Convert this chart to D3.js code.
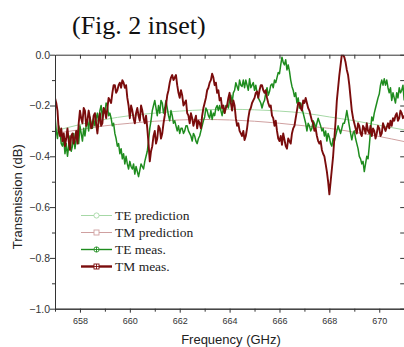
<!DOCTYPE html>
<html>
<head>
<meta charset="utf-8">
<script src="https://cdn.jsdelivr.net/npm/d3@7/dist/d3.min.js"></script>
<style>
  body { margin: 0; background: #fff; }
  svg { display: block; }
</style>
</head>
<body>
<div id="chart"></div>
<script>
// frequency grid, 657.00 .. 671.00 GHz, step 0.05 (one row = 1 GHz)
var freqStart = 657, freqStep = 0.05;

var tmMeas = [
  -0.17,-0.19,-0.22,-0.30,-0.32,-0.29,-0.34,-0.31,-0.36,-0.33,-0.29,-0.34,-0.375,-0.32,-0.31,-0.35,-0.33,-0.30,-0.35,-0.27,
  -0.22,-0.25,-0.27,-0.21,-0.22,-0.28,-0.26,-0.22,-0.25,-0.29,-0.28,-0.24,-0.23,-0.27,-0.31,-0.26,-0.23,-0.28,-0.27,-0.21,
  -0.22,-0.25,-0.21,-0.17,-0.18,-0.19,-0.15,-0.12,-0.12,-0.15,-0.14,-0.12,-0.11,-0.13,-0.10,-0.11,-0.13,-0.12,-0.17,-0.20,
  -0.25,-0.20,-0.22,-0.25,-0.27,-0.23,-0.21,-0.24,-0.26,-0.20,-0.22,-0.25,-0.27,-0.24,-0.29,-0.35,-0.42,-0.38,-0.36,-0.32,
  -0.30,-0.35,-0.33,-0.28,-0.29,-0.33,-0.31,-0.27,-0.24,-0.20,-0.16,-0.14,-0.11,-0.09,-0.08,-0.10,-0.09,-0.08,-0.12,-0.15,
  -0.17,-0.14,-0.16,-0.20,-0.19,-0.18,-0.23,-0.24,-0.27,-0.23,-0.25,-0.28,-0.26,-0.24,-0.29,-0.26,-0.27,-0.29,-0.24,-0.21,
  -0.19,-0.17,-0.14,-0.13,-0.11,-0.10,-0.075,-0.09,-0.12,-0.11,-0.15,-0.14,-0.18,-0.17,-0.21,-0.20,-0.23,-0.21,-0.20,-0.17,
  -0.15,-0.19,-0.22,-0.18,-0.20,-0.25,-0.28,-0.27,-0.30,-0.31,-0.32,-0.30,-0.336,-0.32,-0.29,-0.25,-0.22,-0.21,-0.19,-0.18,
  -0.17,-0.15,-0.145,-0.17,-0.14,-0.12,-0.12,-0.14,-0.15,-0.14,-0.17,-0.19,-0.205,-0.20,-0.24,-0.25,-0.28,-0.26,-0.30,-0.33,
  -0.34,-0.32,-0.355,-0.31,-0.335,-0.36,-0.37,-0.33,-0.34,-0.35,-0.31,-0.29,-0.28,-0.25,-0.22,-0.19,-0.19,-0.21,-0.22,-0.18,
  -0.19,-0.17,-0.19,-0.21,-0.22,-0.24,-0.26,-0.27,-0.30,-0.29,-0.32,-0.34,-0.35,-0.34,-0.375,-0.39,-0.40,-0.43,-0.46,-0.50,
  -0.55,-0.50,-0.45,-0.40,-0.33,-0.26,-0.18,-0.13,-0.08,-0.04,0.00,0.00,-0.01,-0.03,-0.06,-0.08,-0.12,-0.17,-0.22,-0.25,
  -0.27,-0.29,-0.31,-0.27,-0.28,-0.31,-0.32,-0.28,-0.29,-0.31,-0.27,-0.30,-0.31,-0.28,-0.32,-0.29,-0.30,-0.33,-0.31,-0.28,
  -0.29,-0.32,-0.31,-0.27,-0.285,-0.30,-0.285,-0.27,-0.29,-0.26,-0.28,-0.25,-0.26,-0.24,-0.23,-0.26,-0.25,-0.22,-0.23,-0.25,
  -0.24
];

// TE measured (dB)
var teMeas = [
  -0.24,-0.30,-0.33,-0.28,-0.30,-0.35,-0.36,-0.33,-0.39,-0.35,-0.40,-0.36,-0.32,-0.38,-0.36,-0.31,-0.37,-0.33,-0.30,-0.35,
  -0.28,-0.31,-0.34,-0.29,-0.32,-0.28,-0.26,-0.30,-0.245,-0.27,-0.29,-0.25,-0.28,-0.25,-0.23,-0.27,-0.22,-0.20,-0.25,-0.21,
  -0.23,-0.19,-0.20,-0.24,-0.23,-0.25,-0.28,-0.27,-0.31,-0.33,-0.36,-0.35,-0.39,-0.37,-0.41,-0.39,-0.43,-0.40,-0.43,-0.45,
  -0.42,-0.44,-0.45,-0.43,-0.47,-0.44,-0.46,-0.48,-0.455,-0.43,-0.44,-0.45,-0.42,-0.40,-0.38,-0.34,-0.29,-0.26,-0.22,-0.20,
  -0.18,-0.21,-0.24,-0.20,-0.23,-0.18,-0.19,-0.23,-0.21,-0.18,-0.21,-0.24,-0.26,-0.22,-0.24,-0.27,-0.26,-0.28,-0.30,-0.28,
  -0.31,-0.29,-0.29,-0.31,-0.30,-0.28,-0.28,-0.30,-0.31,-0.32,-0.34,-0.31,-0.32,-0.34,-0.35,-0.33,-0.32,-0.30,-0.28,-0.26,
  -0.245,-0.21,-0.22,-0.24,-0.25,-0.22,-0.255,-0.23,-0.24,-0.21,-0.20,-0.22,-0.20,-0.22,-0.24,-0.21,-0.23,-0.20,-0.20,-0.21,
  -0.18,-0.16,-0.19,-0.15,-0.14,-0.11,-0.125,-0.14,-0.10,-0.12,-0.125,-0.10,-0.13,-0.10,-0.12,-0.14,-0.095,-0.13,-0.12,-0.11,
  -0.14,-0.12,-0.15,-0.17,-0.18,-0.19,-0.21,-0.19,-0.18,-0.15,-0.13,-0.16,-0.145,-0.12,-0.115,-0.13,-0.10,-0.11,-0.09,-0.07,
  -0.075,-0.04,-0.01,-0.03,-0.04,-0.02,-0.06,-0.04,-0.065,-0.10,-0.125,-0.14,-0.165,-0.15,-0.19,-0.17,-0.21,-0.19,-0.21,-0.23,
  -0.25,-0.27,-0.30,-0.27,-0.28,-0.30,-0.29,-0.26,-0.27,-0.29,-0.27,-0.25,-0.265,-0.28,-0.30,-0.29,-0.32,-0.30,-0.34,-0.31,
  -0.325,-0.35,-0.36,-0.33,-0.34,-0.32,-0.30,-0.28,-0.295,-0.31,-0.29,-0.27,-0.27,-0.25,-0.22,-0.25,-0.28,-0.31,-0.335,-0.31,
  -0.30,-0.33,-0.35,-0.37,-0.40,-0.41,-0.43,-0.42,-0.46,-0.43,-0.40,-0.41,-0.36,-0.30,-0.245,-0.26,-0.23,-0.21,-0.19,-0.17,
  -0.155,-0.12,-0.10,-0.12,-0.095,-0.12,-0.10,-0.13,-0.15,-0.13,-0.18,-0.15,-0.17,-0.19,-0.15,-0.17,-0.13,-0.15,-0.14,-0.12,
  -0.18
];

// predictions, one value per GHz
var predFreq = [657,658,659,660,661,662,663,664,665,666,667,668,669,670,671];
var tePred = [-0.30,-0.275,-0.255,-0.24,-0.23,-0.222,-0.217,-0.215,-0.217,-0.222,-0.23,-0.245,-0.26,-0.278,-0.296];
var tmPred = [-0.31,-0.295,-0.28,-0.27,-0.262,-0.257,-0.255,-0.257,-0.262,-0.27,-0.28,-0.29,-0.305,-0.322,-0.342];

var xMajor = [658,660,662,664,666,668,670];
var yMajor = [0,-0.2,-0.4,-0.6,-0.8,-1.0];
var legendNames = ["TE prediction","TM prediction","TE meas.","TM meas."];

drawChart();

function drawChart() {
  var W = 404, H = 347;
  var m = { left: 55, right: 404.2, top: 54.7, bottom: 308.7 };

  var svg = d3.select("#chart").append("svg")
    .attr("width", W).attr("height", H);

  var x = d3.scaleLinear().domain([657, 671]).range([m.left, m.right]);
  var y = d3.scaleLinear().domain([0, -1]).range([m.top, m.bottom]);

  var axisCol = "#333";
  var tickFont = "'Liberation Sans', Arial, sans-serif";
  var serif = "'Liberation Serif', 'Times New Roman', serif";

  svg.append("text")
    .attr("x", 72).attr("y", 34)
    .style("font-family", serif)
    .style("font-size", "26px")
    .attr("fill", "#111")
    .text("(Fig. 2 inset)");

  svg.append("clipPath").attr("id", "clip")
    .append("rect").attr("x", m.left).attr("y", m.top)
    .attr("width", m.right - m.left).attr("height", m.bottom - m.top);

  var plot = svg.append("g").attr("clip-path", "url(#clip)");

  var line = d3.line()
    .x(function (d) { return x(d[0]); })
    .y(function (d) { return y(d[1]); });

  var predLine = d3.line().curve(d3.curveMonotoneX)
    .x(function (d) { return x(d[0]); })
    .y(function (d) { return y(d[1]); });

  var meas = function (arr) {
    return arr.map(function (v, i) { return [freqStart + i * freqStep, v]; });
  };
  var pred = function (arr) {
    return arr.map(function (v, i) { return [predFreq[i], v]; });
  };

  plot.append("path").datum(pred(tePred))
    .attr("d", predLine).attr("fill", "none")
    .attr("stroke", "#a6d8a6").attr("stroke-width", 1);
  plot.append("path").datum(pred(tmPred))
    .attr("d", predLine).attr("fill", "none")
    .attr("stroke", "#cfa0a0").attr("stroke-width", 1);

  plot.append("path").datum(meas(teMeas))
    .attr("d", line).attr("fill", "none")
    .attr("stroke", "#1e8c1e").attr("stroke-width", 1.5)
    .attr("stroke-linejoin", "round");
  plot.append("path").datum(meas(tmMeas))
    .attr("d", line).attr("fill", "none")
    .attr("stroke", "#7a0c0c").attr("stroke-width", 1.9)
    .attr("stroke-linejoin", "round");

  // axes
  var gx = svg.append("g").attr("transform", "translate(0," + m.bottom + ")")
    .call(d3.axisBottom(x).tickValues(xMajor).tickSize(4).tickSizeOuter(0)
      .tickFormat(d3.format("d")));
  gx.selectAll("text").style("font-family", tickFont).style("font-size", "9px")
    .attr("fill", "#333").attr("y", 9);
  svg.append("g").attr("transform", "translate(0," + m.bottom + ")")
    .call(d3.axisBottom(x).tickValues(d3.range(657, 672, 2)).tickSize(3).tickFormat("").tickSizeOuter(0));

  svg.append("g").attr("transform", "translate(0," + m.top + ")")
    .call(d3.axisTop(x).tickValues(d3.range(658, 671, 1)).tickSize(-4).tickFormat("").tickSizeOuter(0));

  var gy = svg.append("g").attr("transform", "translate(" + m.left + ",0)")
    .call(d3.axisLeft(y).tickValues(yMajor).tickSize(5).tickSizeOuter(0)
      .tickFormat(d3.format(".1f")));
  gy.selectAll("text").style("font-family", tickFont).style("font-size", "10.5px")
    .attr("fill", "#333").attr("x", -5);
  svg.append("g").attr("transform", "translate(" + m.left + ",0)")
    .call(d3.axisLeft(y).tickValues([-0.1,-0.3,-0.5,-0.7,-0.9]).tickSize(3).tickFormat("").tickSizeOuter(0));

  svg.append("g").attr("transform", "translate(" + m.right + ",0)")
    .call(d3.axisRight(y).tickValues(d3.range(0, -1.01, -0.1)).tickSize(-4).tickFormat("").tickSizeOuter(0));

  svg.selectAll(".domain").attr("stroke", axisCol);
  svg.selectAll(".tick line").attr("stroke", axisCol);

  svg.append("text")
    .attr("transform", "translate(22," + ((m.top + m.bottom) / 2 + 15) + ") rotate(-90)")
    .attr("text-anchor", "middle")
    .style("font-family", tickFont).style("font-size", "13px")
    .attr("fill", "#222")
    .text("Transmission (dB)");

  svg.append("text")
    .attr("x", 231).attr("y", 344)
    .attr("text-anchor", "middle")
    .style("font-family", tickFont).style("font-size", "13px")
    .attr("fill", "#222")
    .text("Frequency (GHz)");

  // legend
  var legStyle = [
    { col: "#a6d8a6", w: 1, mark: "circle", cross: false },
    { col: "#cfa0a0", w: 1, mark: "square", cross: false },
    { col: "#1e8c1e", w: 1.4, mark: "circle", cross: true },
    { col: "#7a0c0c", w: 2.4, mark: "square", cross: true }
  ];
  var legY = d3.scaleBand().domain(legendNames).range([207, 275]);
  var leg = svg.append("g");
  legendNames.forEach(function (name, i) {
    var s = legStyle[i];
    var cy = legY(name) + legY.bandwidth() / 2;
    leg.append("line").attr("x1", 81).attr("x2", 112).attr("y1", cy).attr("y2", cy)
      .attr("stroke", s.col).attr("stroke-width", s.w);
    if (s.mark === "circle") {
      leg.append("circle").attr("cx", 96.5).attr("cy", cy).attr("r", 2.6)
        .attr("fill", "#fff").attr("stroke", s.col).attr("stroke-width", 0.9);
    } else {
      leg.append("rect").attr("x", 94).attr("y", cy - 2.5).attr("width", 5).attr("height", 5)
        .attr("fill", "#fff").attr("stroke", s.col).attr("stroke-width", 0.9);
    }
    if (s.cross) {
      leg.append("path").attr("d", "M94," + cy + "H99M96.5," + (cy - 2.5) + "V" + (cy + 2.5))
        .attr("stroke", s.col).attr("stroke-width", 0.9);
    }
    leg.append("text").attr("x", 115).attr("y", cy).attr("dy", "0.35em")
      .style("font-family", serif)
      .style("font-size", "13.5px").attr("fill", "#222")
      .text(name);
  });
}
</script>
</body>
</html>
